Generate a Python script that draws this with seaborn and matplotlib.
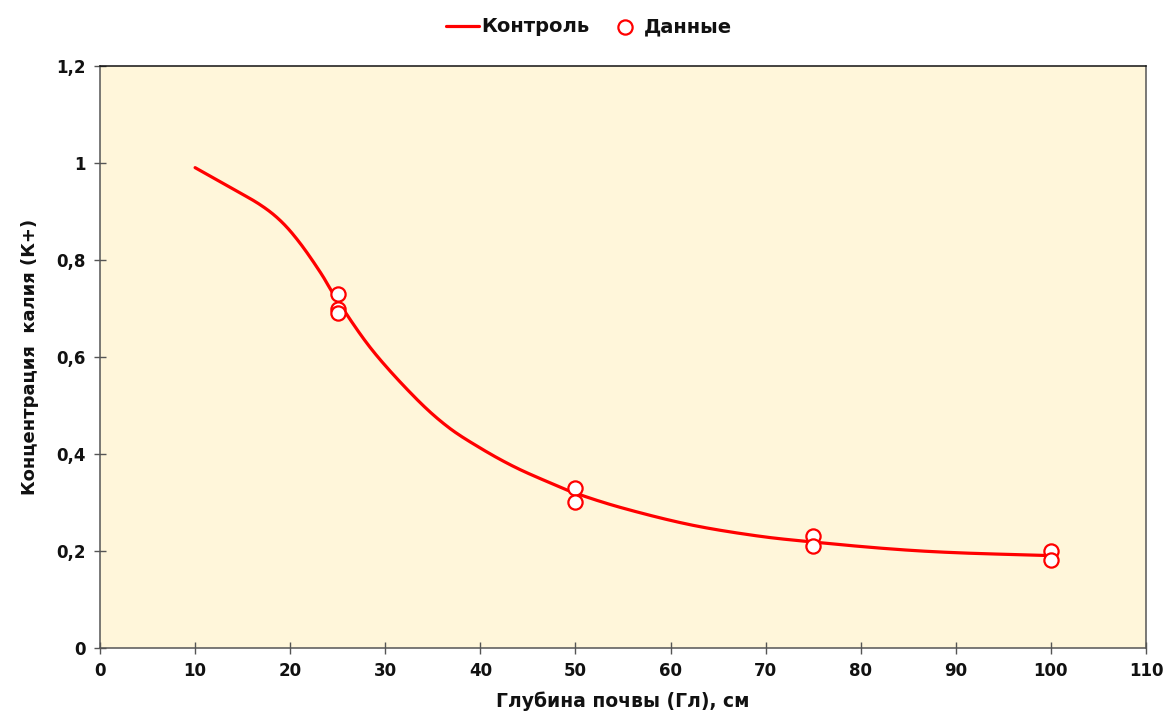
import matplotlib
matplotlib.use("Agg")
import matplotlib.pyplot as plt
import seaborn as sns
import pandas as pd
import numpy as np

# Control curve (depth, cm -> K+ concentration)
control_depth = [10, 13.7, 16.8, 19, 21, 23.2, 25, 28.6, 33, 36.5, 40, 43.5,
                 47, 50, 55, 62, 69, 75, 83, 90, 100]
control_conc = [0.991, 0.950, 0.915, 0.881, 0.836, 0.774, 0.716, 0.615, 0.519,
                0.457, 0.412, 0.374, 0.343, 0.319, 0.288, 0.254, 0.231, 0.218,
                0.204, 0.196, 0.190]

# Measured samples
data_depth = [25, 25, 25, 50, 50, 75, 75, 100, 100]
data_conc = [0.73, 0.70, 0.69, 0.33, 0.30, 0.23, 0.21, 0.20, 0.18]

x_ticks = [0, 10, 20, 30, 40, 50, 60, 70, 80, 90, 100, 110]
y_ticks = [0, 0.2, 0.4, 0.6, 0.8, 1.0, 1.2]
y_tick_labels = ["0", "0,2", "0,4", "0,6", "0,8", "1", "1,2"]


def smooth_line(xs, ys, steps=20):
    """Catmull-Rom rendering of a polyline (smoothed line)."""
    p = np.column_stack([xs, ys]).astype(float)
    p = np.vstack([2 * p[0] - p[1], p, 2 * p[-1] - p[-2]])
    out = []
    t = np.linspace(0, 1, steps, endpoint=False)[:, None]
    for i in range(1, len(p) - 2):
        p0, p1, p2, p3 = p[i - 1], p[i], p[i + 1], p[i + 2]
        seg = 0.5 * ((2 * p1) + (-p0 + p2) * t
                     + (2 * p0 - 5 * p1 + 4 * p2 - p3) * t ** 2
                     + (-p0 + 3 * p1 - 3 * p2 + p3) * t ** 3)
        out.append(seg)
    out.append(p[-2][None, :])
    out = np.vstack(out)
    return out[:, 0], out[:, 1]


sns.set_theme(style="white")
plt.rcParams["font.family"] = ["DejaVu Sans"]
plt.rcParams["font.weight"] = "bold"

fig = plt.figure(figsize=(11.67, 7.22), dpi=100)
ax = fig.add_axes([0.0857, 0.103, 0.8963, 0.805])
ax.set_facecolor("#FFF6DA")

sx, sy = smooth_line(control_depth, control_conc)
control = pd.DataFrame({"depth": sx, "conc": sy})
samples = pd.DataFrame({"depth": data_depth, "conc": data_conc})

sns.lineplot(data=control, x="depth", y="conc", sort=False, ax=ax,
             color="#FF0000", linewidth=2.3, label="Контроль")
sns.scatterplot(data=samples, x="depth", y="conc", ax=ax, marker="o",
                s=105, facecolor="white", edgecolor="#FF0000",
                linewidth=1.6, label="Данные", zorder=3)

ax.set_xlim(0, 110)
ax.set_ylim(0, 1.2)
ax.set_xticks(x_ticks)
ax.set_xticklabels([str(v) for v in x_ticks])
ax.set_yticks(y_ticks)
ax.set_yticklabels(y_tick_labels)
ax.tick_params(axis="both", which="major", bottom=True, left=True,
               direction="inout", length=9, width=1, color="#555555",
               labelsize=12, labelcolor="#111111", pad=6)
for lab in ax.get_xticklabels() + ax.get_yticklabels():
    lab.set_fontweight("bold")

for side in ["left", "bottom", "right"]:
    ax.spines[side].set_color("#555555")
    ax.spines[side].set_linewidth(1.1)
ax.spines["top"].set_color("#111111")
ax.spines["top"].set_linewidth(1.1)

ax.set_xlabel("Глубина почвы (Гл), см", fontsize=13.5, fontweight="bold",
              color="#111111", labelpad=8)
ax.set_ylabel("Концентрация  калия (К+)", fontsize=13, fontweight="bold",
              color="#111111", labelpad=12)

handles, labels = ax.get_legend_handles_labels()
ax.get_legend().remove()
fig.legend(handles, labels, loc="upper center", bbox_to_anchor=(0.505, 1.0),
           ncol=2, frameon=False, handlelength=1.65,
           handletextpad=0.15, columnspacing=1.0,
           prop={"weight": "bold", "size": 14})
for txt in fig.legends[0].get_texts():
    txt.set_color("#111111")

fig.savefig("out.png", dpi=100)
